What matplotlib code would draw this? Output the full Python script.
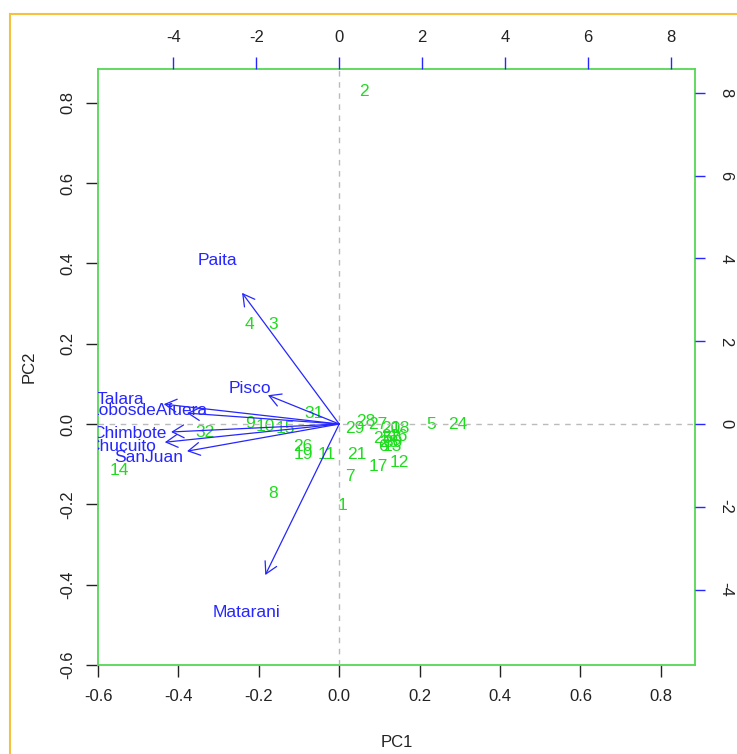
import matplotlib
matplotlib.use("Agg")
import matplotlib.pyplot as plt
from matplotlib.patches import FancyArrowPatch
from matplotlib.lines import Line2D

# ---- data ----
obs_labels = [str(i) for i in range(1, 33)]
pc1 = [0.007, 0.062, -0.164, -0.224, 0.229, 0.109, 0.027, -0.164, -0.221, -0.184,
       -0.030, 0.149, 0.132, -0.547, -0.134, 0.147, 0.097, 0.152, -0.090, 0.127,
       0.045, 0.129, 0.122, 0.296, 0.109, -0.090, 0.097, 0.065, 0.040, 0.134,
       -0.062, -0.333]
pc2 = [-0.204, 0.827, 0.249, 0.247, -0.002, -0.057, -0.130, -0.172, 0.002, -0.007,
       -0.077, -0.097, -0.055, -0.115, -0.010, -0.032, -0.105, -0.010, -0.077, -0.010,
       -0.077, -0.030, -0.045, 0.000, -0.035, -0.055, 0.000, 0.007, -0.010, -0.047,
       0.027, -0.020]

var_names = ["Paita", "Pisco", "Talara", "LobosdeAfuera", "Chimbote", "Chucuito", "SanJuan", "Matarani"]
load1 = [-2.93, -2.15, -5.29, -4.59, -5.07, -5.26, -4.59, -2.23]
load2 = [3.96, 0.87, 0.60, 0.33, -0.24, -0.55, -0.82, -4.56]

xlim = (-0.6, 0.885)
ylim = (-0.6, 0.884)
ratio = 9.7

GREEN = "#1fdc1f"
BOX_GREEN = "#55d855"
BLUE = "#2626ff"
FS = 12.5

plt.rcParams['font.family'] = ['Liberation Sans', 'DejaVu Sans']

W, H = 737, 754
fig = plt.figure(figsize=(W / 100, H / 100), dpi=100)
fig.patch.set_facecolor("white")

# orange outer border (screenshot frame)
fig.add_artist(Line2D([10 / W, 1.0], [1 - 13.5 / H, 1 - 13.5 / H], color="#f6c23e", lw=1.5, transform=fig.transFigure))
fig.add_artist(Line2D([10 / W, 10 / W], [0.0, 1 - 13.5 / H], color="#f6c23e", lw=1.5, transform=fig.transFigure))

pos = [98 / W, 1 - 665 / H, (695 - 98) / W, (665 - 69) / H]
ax = fig.add_axes(pos)
ax.set_xlim(*xlim)
ax.set_ylim(*ylim)
for s in ax.spines.values():
    s.set_color(BOX_GREEN)
    s.set_linewidth(1.3)

ticks1 = [-0.6, -0.4, -0.2, 0.0, 0.2, 0.4, 0.6, 0.8]
tlab1 = ["-0.6", "-0.4", "-0.2", "0.0", "0.2", "0.4", "0.6", "0.8"]
ax.set_xticks(ticks1)
ax.set_yticks(ticks1)
ax.set_xticklabels(tlab1)
ax.set_yticklabels(tlab1, rotation=90, va="center")
ax.tick_params(axis="both", direction="out", length=8.5, width=1, color="#222222",
               labelsize=12, labelcolor="#222222", pad=9)
ax.tick_params(axis="y", pad=8)
ax.set_xlabel("PC1", fontsize=12, color="#222222", labelpad=22)
ax.set_ylabel("PC2", fontsize=12, color="#222222", labelpad=17)

for lab, x, y in zip(obs_labels, pc1, pc2):
    ax.text(x, y, lab, color=GREEN, fontsize=FS, ha="center", va="center", clip_on=True)

# secondary axes for loadings
ax2 = fig.add_axes(pos, frameon=False)
ax2.set_xlim(xlim[0] * ratio, xlim[1] * ratio)
ax2.set_ylim(ylim[0] * ratio, ylim[1] * ratio)
ax2.patch.set_alpha(0)
ax2.xaxis.tick_top()
ax2.yaxis.tick_right()
ticks2 = [-4, -2, 0, 2, 4, 6, 8]
tlab2 = ["-4", "-2", "0", "2", "4", "6", "8"]
ax2.set_xticks(ticks2)
ax2.set_yticks(ticks2)
ax2.set_xticklabels(tlab2)
ax2.set_yticklabels(tlab2, rotation=270, va="center")
ax2.tick_params(axis="x", direction="out", length=8.5, width=1, color=BLUE,
                labelsize=12, labelcolor="#222222", pad=9)
ax2.tick_params(axis="y", direction="out", length=7, width=1, color=BLUE,
                labelsize=12, labelcolor="#222222", pad=10)

ax2.axhline(0, color="#bbbbbb", lw=1, ls=(0, (4, 4)), zorder=0)
ax2.axvline(0, color="#bbbbbb", lw=1, ls=(0, (4, 4)), zorder=0)

for name, lx, ly in zip(var_names, load1, load2):
    arr = FancyArrowPatch((0, 0), (0.8 * lx, 0.8 * ly),
                          arrowstyle="->,head_length=0.75,head_width=0.42",
                          mutation_scale=11, color=BLUE, lw=0.9,
                          shrinkA=0, shrinkB=0)
    ax2.add_patch(arr)
    ax2.text(lx, ly, name, color=BLUE, fontsize=FS, ha="center", va="center", clip_on=True)

fig.savefig("out.png", dpi=100, facecolor="white")
